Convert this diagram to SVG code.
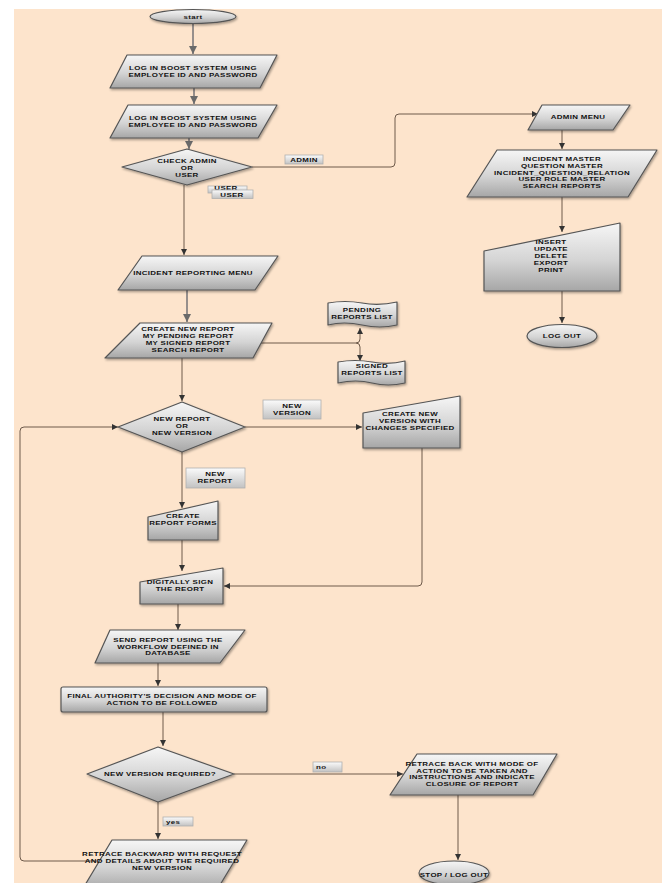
<svg xmlns="http://www.w3.org/2000/svg" width="662" height="883" viewBox="0 0 662 883">
<defs>
<linearGradient id="g" x1="0" y1="0" x2="0" y2="1">
<stop offset="0" stop-color="#f6f6f6"/>
<stop offset="0.55" stop-color="#d4d4d4"/>
<stop offset="1" stop-color="#a6a6a6"/>
</linearGradient>
<linearGradient id="gl" x1="0" y1="0" x2="0" y2="1">
<stop offset="0" stop-color="#fbfbfb"/>
<stop offset="1" stop-color="#c2c2c2"/>
</linearGradient>
<filter id="sh" x="-10%" y="-10%" width="130%" height="140%">
<feDropShadow dx="1" dy="1.5" stdDeviation="1" flood-color="#000" flood-opacity="0.35"/>
</filter>
<marker id="a" markerUnits="userSpaceOnUse" markerWidth="6" markerHeight="6" refX="6" refY="3" orient="auto">
<path d="M0,0 L6,3 L0,6 z" fill="#333"/>
</marker>
<marker id="a2" markerUnits="userSpaceOnUse" markerWidth="8" markerHeight="8" refX="8" refY="4" orient="auto">
<path d="M0,0 L8,4 L0,8 z" fill="#6a6a6a"/>
</marker>
<style>
.s{fill:url(#g);stroke:#555;stroke-width:1.2;stroke-linejoin:round;filter:url(#sh)}
.l{fill:url(#gl);stroke:#b0b0b0;stroke-width:0.8}
.t{font-family:"Liberation Sans",Arial,sans-serif;font-weight:bold;font-size:6px;letter-spacing:0.25px;fill:#111;text-anchor:middle}
.tl{text-anchor:start}
.c{fill:none;stroke:#6e5a4a;stroke-width:1;marker-end:url(#a)}
.ct{fill:none;stroke:#858080;stroke-width:1.7;marker-end:url(#a2)}
</style>
</defs>
<rect x="0" y="0" width="662" height="883" fill="#ffffff"/>
<rect x="14" y="9" width="648" height="874" fill="#fde4cc"/>

<g id="connectors">
<path class="ct" d="M193,24 V54"/>
<path class="ct" d="M194,88 V104"/>
<path class="ct" d="M189,138 V149"/>
<path class="c" d="M252,167 H391 Q395,167 395,163 V118 Q395,114 399,114 H538"/>
<path class="c" d="M184,185 V255"/>
<path class="ct" d="M187,290 V322"/>
<path class="c" d="M253,343 H356 Q360,343 360,339 V328"/>
<path class="c" d="M356,343 Q360,343 360,347 V361"/>
<path class="c" d="M182,358 V401"/>
<path class="c" d="M245,427 H362"/>
<path class="c" d="M422,448 V582 Q422,586 418,586 H224"/>
<path class="c" d="M182,452 V508"/>
<path class="c" d="M182,540 V571"/>
<path class="c" d="M178,604 V630"/>
<path class="c" d="M158,663 V686"/>
<path class="c" d="M163,712 V746"/>
<path class="c" d="M234,774 H403"/>
<path class="c" d="M158,802 V839"/>
<path class="c" d="M98,861 H24 Q20,861 20,857 V431 Q20,427 24,427 H118"/>
<path class="c" d="M458,795 V860"/>
<path class="c" d="M562,130 V149"/>
<path class="c" d="M562,197 V232"/>
<path class="c" d="M562,291 V323"/>
</g>

<g id="start">
<ellipse class="s" cx="193" cy="16.5" rx="43" ry="7"/>
<g transform="translate(193 0) scale(1.32 1)"><text class="t" x="0" y="19">start</text></g>
</g>

<g id="login1">
<polygon class="s" points="127,55 277,55 260,88 110,88"/>
<g transform="translate(193 0) scale(1.32 1)">
<text class="t" x="0" y="70.4">LOG IN BOOST SYSTEM USING</text>
<text class="t" x="0" y="77.2">EMPLOYEE ID AND PASSWORD</text>
</g>
</g>

<g id="login2">
<polygon class="s" points="128,105 277,105 258,138 110,138"/>
<g transform="translate(193 0) scale(1.32 1)">
<text class="t" x="0" y="120.5">LOG IN BOOST SYSTEM USING</text>
<text class="t" x="0" y="127.3">EMPLOYEE ID AND PASSWORD</text>
</g>
</g>

<g id="check">
<polygon class="s" points="187,149 252,167 187,185 122,167"/>
<g transform="translate(187 0) scale(1.32 1)">
<text class="t" x="0" y="163">CHECK ADMIN</text>
<text class="t" x="0" y="169.8">OR</text>
<text class="t" x="0" y="176.6">USER</text>
</g>
</g>

<g id="lbl-admin">
<rect class="l" x="285" y="155" width="38" height="9"/>
<g transform="translate(304 0) scale(1.32 1)"><text class="t" x="0" y="162.3">ADMIN</text></g>
</g>

<g id="lbl-user">
<rect class="l" x="208" y="186" width="39" height="7"/>
<g transform="translate(226 0) scale(1.32 1)"><text class="t" x="0" y="189.8">USER</text></g>
<rect class="l" x="212" y="190" width="41" height="8.5"/>
<g transform="translate(232 0) scale(1.32 1)"><text class="t" x="0" y="197">USER</text></g>
</g>

<g id="incident-menu">
<polygon class="s" points="142,256 278,256 255,290 118,290"/>
<g transform="translate(193 0) scale(1.32 1)"><text class="t" x="0" y="275.2">INCIDENT REPORTING MENU</text></g>
</g>

<g id="create-menu">
<polygon class="s" points="140,323 272,323 253,358 105,358"/>
<g transform="translate(188 0) scale(1.32 1)">
<text class="t" x="0" y="331.4">CREATE NEW REPORT</text>
<text class="t" x="0" y="338.2">MY PENDING REPORT</text>
<text class="t" x="0" y="345">MY SIGNED REPORT</text>
<text class="t" x="0" y="351.8">SEARCH REPORT</text>
</g>
</g>

<g id="pending">
<path class="s" d="M328,303 Q345,300 362,303 T397,302 L397,325 Q380,329 362,325 T328,325 Z"/>
<g transform="translate(362 0) scale(1.32 1)">
<text class="t" x="0" y="311.8">PENDING</text>
<text class="t" x="0" y="318.6">REPORTS LIST</text>
</g>
</g>

<g id="signed">
<path class="s" d="M338,362 Q355,359 372,362 T405,361 L405,383 Q388,387 372,383 T338,383 Z"/>
<g transform="translate(372 0) scale(1.32 1)">
<text class="t" x="0" y="368.5">SIGNED</text>
<text class="t" x="0" y="375.3">REPORTS LIST</text>
</g>
</g>

<g id="new-or-version">
<polygon class="s" points="182,402 245,427 182,452 118,427"/>
<g transform="translate(182 0) scale(1.32 1)">
<text class="t" x="0" y="421.4">NEW REPORT</text>
<text class="t" x="0" y="428.2">OR</text>
<text class="t" x="0" y="435">NEW VERSION</text>
</g>
</g>

<g id="lbl-new-version">
<rect class="l" x="263" y="400" width="58" height="19"/>
<g transform="translate(292 0) scale(1.32 1)">
<text class="t" x="0" y="407.8">NEW</text>
<text class="t" x="0" y="414.6">VERSION</text>
</g>
</g>

<g id="create-version">
<polygon class="s" points="363,413 460,396 460,448 363,448"/>
<g transform="translate(410 0) scale(1.32 1)">
<text class="t" x="0" y="416.4">CREATE NEW</text>
<text class="t" x="0" y="423.2">VERSION WITH</text>
<text class="t" x="0" y="430">CHANGES SPECIFIED</text>
</g>
</g>

<g id="lbl-new-report">
<rect class="l" x="186" y="468" width="59" height="20"/>
<g transform="translate(215 0) scale(1.32 1)">
<text class="t" x="0" y="475.8">NEW</text>
<text class="t" x="0" y="482.6">REPORT</text>
</g>
</g>

<g id="create-forms">
<polygon class="s" points="148,517 218,501 218,540 148,540"/>
<g transform="translate(183 0) scale(1.32 1)">
<text class="t" x="0" y="518">CREATE</text>
<text class="t" x="0" y="524.8">REPORT FORMS</text>
</g>
</g>

<g id="sign">
<polygon class="s" points="140,582 223,568 223,604 140,604"/>
<g transform="translate(180 0) scale(1.32 1)">
<text class="t" x="0" y="583.8">DIGITALLY SIGN</text>
<text class="t" x="0" y="590.6">THE REORT</text>
</g>
</g>

<g id="send">
<polygon class="s" points="110,630 245,630 220,663 95,663"/>
<g transform="translate(168 0) scale(1.32 1)">
<text class="t" x="0" y="641.8">SEND REPORT USING THE</text>
<text class="t" x="0" y="648.6">WORKFLOW DEFINED IN</text>
<text class="t" x="0" y="655.4">DATABASE</text>
</g>
</g>

<g id="final">
<rect class="s" x="61" y="687" width="206" height="25" rx="2"/>
<g transform="translate(162 0) scale(1.32 1)">
<text class="t" x="0" y="697.8">FINAL AUTHORITY'S DECISION AND MODE OF</text>
<text class="t" x="0" y="704.6">ACTION TO BE FOLLOWED</text>
</g>
</g>

<g id="version-required">
<polygon class="s" points="158,747 234,774 158,802 87,774"/>
<g transform="translate(160 0) scale(1.32 1)"><text class="t" x="0" y="776.2">NEW VERSION REQUIRED?</text></g>
</g>

<g id="lbl-no">
<rect class="l" x="313" y="762" width="29" height="10"/>
<g transform="translate(316 0) scale(1.32 1)"><text class="t tl" x="0" y="769.2">no</text></g>
</g>

<g id="lbl-yes">
<rect class="l" x="163" y="817" width="30" height="9"/>
<g transform="translate(166 0) scale(1.32 1)"><text class="t tl" x="0" y="823.7">yes</text></g>
</g>

<g id="retrace-backward">
<polygon class="s" points="112,840 247,840 217,890 82,890"/>
<g transform="translate(162 0) scale(1.32 1)">
<text class="t" x="0" y="856.4">RETRACE BACKWARD WITH REQUEST</text>
<text class="t" x="0" y="863.2">AND DETAILS ABOUT THE REQUIRED</text>
<text class="t" x="0" y="870">NEW VERSION</text>
</g>
</g>

<g id="retrace-back">
<polygon class="s" points="417,754 557,754 533,795 390,795"/>
<g transform="translate(472 0) scale(1.32 1)">
<text class="t" x="0" y="765.8">RETRACE BACK WITH MODE OF</text>
<text class="t" x="0" y="772.6">ACTION TO BE TAKEN AND</text>
<text class="t" x="0" y="779.4">INSTRUCTIONS AND INDICATE</text>
<text class="t" x="0" y="786.2">CLOSURE OF REPORT</text>
</g>
</g>

<g id="stop">
<ellipse class="s" cx="454" cy="873" rx="35" ry="12"/>
<g transform="translate(454 0) scale(1.32 1)"><text class="t" x="0" y="877.2">STOP / LOG OUT</text></g>
</g>

<g id="admin-menu">
<polygon class="s" points="542,105 630,105 613,130 528,130"/>
<g transform="translate(578 0) scale(1.32 1)"><text class="t" x="0" y="119.2">ADMIN MENU</text></g>
</g>

<g id="masters">
<polygon class="s" points="497,150 657,150 628,197 467,197"/>
<g transform="translate(562 0) scale(1.32 1)">
<text class="t" x="0" y="161">INCIDENT MASTER</text>
<text class="t" x="0" y="167.8">QUESTION MASTER</text>
<text class="t" x="0" y="174.6">INCIDENT_QUESTION_RELATION</text>
<text class="t" x="0" y="181.4">USER ROLE MASTER</text>
<text class="t" x="0" y="188.2">SEARCH REPORTS</text>
</g>
</g>

<g id="operations">
<polygon class="s" points="484,251 620,223 620,291 484,291"/>
<g transform="translate(551 0) scale(1.32 1)">
<text class="t" x="0" y="244.4">INSERT</text>
<text class="t" x="0" y="251.2">UPDATE</text>
<text class="t" x="0" y="258">DELETE</text>
<text class="t" x="0" y="264.8">EXPORT</text>
<text class="t" x="0" y="271.6">PRINT</text>
</g>
</g>

<g id="logout">
<ellipse class="s" cx="562" cy="336" rx="35" ry="11.5"/>
<g transform="translate(562 0) scale(1.32 1)"><text class="t" x="0" y="338.2">LOG OUT</text></g>
</g>
</svg>
